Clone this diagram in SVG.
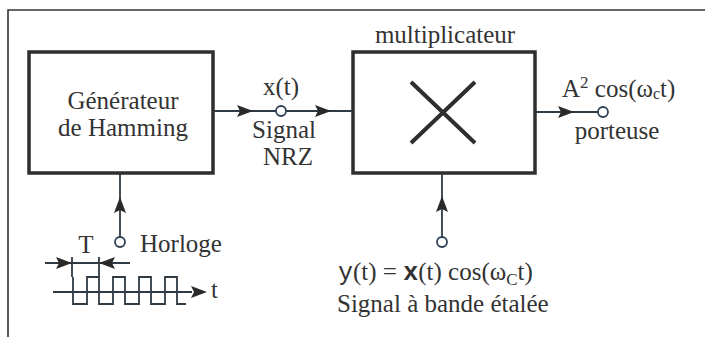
<svg xmlns="http://www.w3.org/2000/svg" xmlns:xlink="http://www.w3.org/1999/xlink" width="705" height="337" viewBox="0 0 705 337">
<style>
.t{font-family:"Liberation Serif","Times New Roman",serif;font-size:25px;fill:#333}
.m{font-family:"Liberation Mono","Courier New",monospace}
.box{fill:#fff;stroke:#2e2e2e;stroke-width:3.5}
.ln{fill:none;stroke:#2f3a44;stroke-width:1.8}
.frame{fill:none;stroke:#333;stroke-width:1.6}
.node{fill:#fff;stroke:#2f3f55;stroke-width:1.8}
.ah{fill:#2a2a2a}
</style>
<defs>
<path id="ah" d="M-8,-6 L8,0 L-8,6 L-5,0 Z"/>
</defs>
<rect width="705" height="337" fill="#fff"/>
<path class="frame" d="M8,337 V10 H705"/>

<g id="generateur">
<rect class="box" x="29" y="52" width="184" height="121"/>
<text class="t" x="123" y="109" text-anchor="middle">Générateur</text>
<text class="t" x="123" y="136" text-anchor="middle">de Hamming</text>
</g>

<g id="multiplicateur">
<text class="t" x="445" y="43" text-anchor="middle">multiplicateur</text>
<rect class="box" x="353" y="52" width="182" height="121"/>
<path d="M411,82 L475,143 M475,82 L411,143" stroke="#2e2e2e" stroke-width="4" fill="none"/>
</g>

<g id="connecteurs">
<path class="ln" d="M213,111 H353"/>
<use href="#ah" class="ah" transform="translate(245,111)"/>
<use href="#ah" class="ah" transform="translate(323,111)"/>
<path class="ln" d="M535,112 H598"/>
<use href="#ah" class="ah" transform="translate(566,112)"/>
<path class="ln" d="M120,173 V237"/>
<use href="#ah" class="ah" transform="translate(120,205) rotate(-90)"/>
<path class="ln" d="M442,173 V237"/>
<use href="#ah" class="ah" transform="translate(442,204) rotate(-90)"/>
</g>

<g id="xt">
<circle class="node" cx="281" cy="111" r="5"/>
<text class="t" x="281" y="95" text-anchor="middle">x(t)</text>
<text class="t" x="284" y="138" text-anchor="middle">Signal</text>
<text class="t" x="288" y="165" text-anchor="middle">NRZ</text>
</g>

<g id="porteuse">
<circle class="node" cx="603" cy="112" r="5"/>
<text class="t" x="562" y="97">A<tspan font-size="17" dy="-9">2</tspan><tspan dy="9"> cos(ω</tspan><tspan font-size="16" dy="2">c</tspan><tspan dy="-2">t)</tspan></text>
<text class="t" x="617" y="139" text-anchor="middle">porteuse</text>
</g>

<g id="horloge">
<circle class="node" cx="120" cy="242" r="5"/>
<text class="t" x="140" y="252">Horloge</text>
<text class="t" x="86" y="253" text-anchor="middle">T</text>
<path class="ln" d="M45,263 H130 M72,257 V277 M99,257 V277"/>
<use href="#ah" class="ah" transform="translate(64,263)"/>
<use href="#ah" class="ah" transform="translate(107,263) rotate(180)"/>
<path class="ln" d="M53,292 H192"/>
<use href="#ah" class="ah" transform="translate(199,292)"/>
<path class="ln" d="M73,277 V304 H87 V277 H99 V304 H113 V277 H125 V304 H139 V277 H151 V304 H165 V277 H177 V304 H186"/>
<text class="t" x="211" y="298">t</text>
</g>

<g id="yt">
<circle class="node" cx="442" cy="242" r="5"/>
<text class="t" x="338" y="280"><tspan class="m">y</tspan>(t) = <tspan class="m" font-weight="bold">x</tspan>(t) cos(ω<tspan font-size="17" dy="5">C</tspan><tspan dy="-5">t)</tspan></text>
<text class="t" x="337" y="312">Signal à bande étalée</text>
</g>
</svg>
